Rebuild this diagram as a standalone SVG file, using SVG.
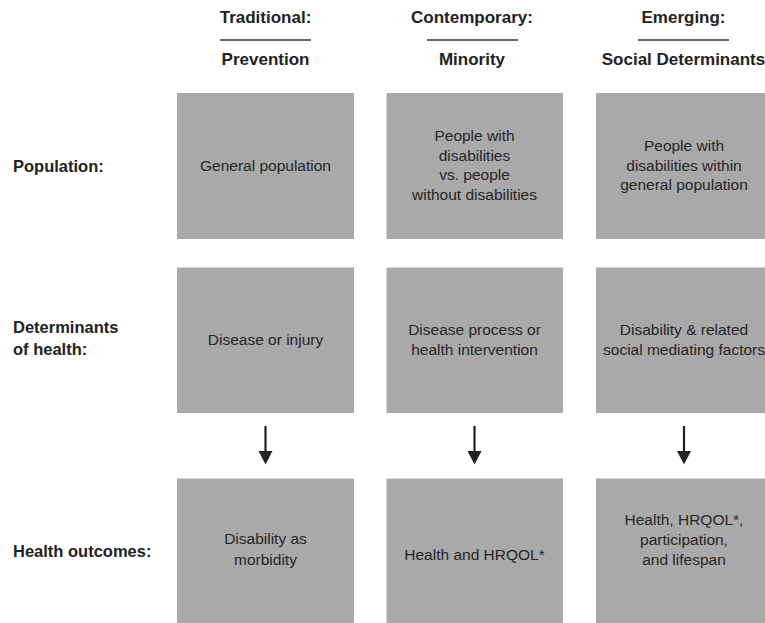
<svg xmlns="http://www.w3.org/2000/svg" width="765" height="623" viewBox="0 0 765 623">
<style>
.box{fill:#a9a9a9}
.t{font-family:"Liberation Sans",Arial,sans-serif;font-size:15.5px;fill:#262626;text-anchor:middle}
.h{font-family:"Liberation Sans",Arial,sans-serif;font-size:17px;font-weight:bold;fill:#222;text-anchor:middle}
.r{font-family:"Liberation Sans",Arial,sans-serif;font-size:16.5px;font-weight:bold;fill:#222}
.ul{stroke:#333;stroke-width:1.5}
.ar{stroke:#222;stroke-width:2.2;fill:none}
.ah{fill:#222}
</style>
<rect width="765" height="623" fill="#fff"/>
<g id="headers">
<text class="h" x="265.5" y="23">Traditional:</text>
<line class="ul" x1="220" y1="40" x2="311" y2="40"/>
<text class="h" x="265.5" y="65">Prevention</text>
<text class="h" x="472" y="23">Contemporary:</text>
<line class="ul" x1="427" y1="40" x2="518" y2="40"/>
<text class="h" x="472" y="65">Minority</text>
<text class="h" x="683.5" y="23">Emerging:</text>
<line class="ul" x1="638" y1="40" x2="729" y2="40"/>
<text class="h" x="683.5" y="65">Social Determinants</text>
</g>
<g id="rowlabels">
<text class="r" x="13" y="172">Population:</text>
<text class="r" x="13" y="333">Determinants</text>
<text class="r" x="13" y="355">of health:</text>
<text class="r" x="13" y="557">Health outcomes:</text>
</g>
<g id="n11"><rect class="box" x="177" y="93" width="177" height="146"/>
<text class="t" x="265.5" y="170.5">General population</text></g>
<g id="n12"><rect class="box" x="386.5" y="93" width="176.5" height="146"/>
<text class="t" x="474.5" y="141">People with</text>
<text class="t" x="474.5" y="160.5">disabilities</text>
<text class="t" x="474.5" y="180">vs. people</text>
<text class="t" x="474.5" y="200">without disabilities</text></g>
<g id="n13"><rect class="box" x="596" y="93" width="177" height="146"/>
<text class="t" x="684" y="151">People with</text>
<text class="t" x="684" y="170.5">disabilities within</text>
<text class="t" x="684" y="190">general population</text></g>
<g id="n21"><rect class="box" x="177" y="267.5" width="177" height="145.5"/>
<text class="t" x="265.5" y="345">Disease or injury</text></g>
<g id="n22"><rect class="box" x="386.5" y="267.5" width="176.5" height="145.5"/>
<text class="t" x="474.5" y="335">Disease process or</text>
<text class="t" x="474.5" y="355">health intervention</text></g>
<g id="n23"><rect class="box" x="596" y="267.5" width="177" height="145.5"/>
<text class="t" x="684" y="335">Disability &amp; related</text>
<text class="t" x="684" y="355">social mediating factors</text></g>
<g id="n31"><rect class="box" x="177" y="478.5" width="177" height="146"/>
<text class="t" x="265.5" y="544">Disability as</text>
<text class="t" x="265.5" y="565">morbidity</text></g>
<g id="n32"><rect class="box" x="386.5" y="478.5" width="176.5" height="146"/>
<text class="t" x="474.5" y="560">Health and HRQOL*</text></g>
<g id="n33"><rect class="box" x="596" y="478.5" width="177" height="146"/>
<text class="t" x="684" y="525">Health, HRQOL*,</text>
<text class="t" x="684" y="545">participation,</text>
<text class="t" x="684" y="565">and lifespan</text></g>
<g id="connectors">
<line class="ar" x1="265.5" y1="426" x2="265.5" y2="453"/>
<polygon class="ah" points="258.5,451 272.5,451 265.5,464.5"/>
<line class="ar" x1="474.5" y1="426" x2="474.5" y2="453"/>
<polygon class="ah" points="467.5,451 481.5,451 474.5,464.5"/>
<line class="ar" x1="684" y1="426" x2="684" y2="453"/>
<polygon class="ah" points="677,451 691,451 684,464.5"/>
</g>
</svg>
